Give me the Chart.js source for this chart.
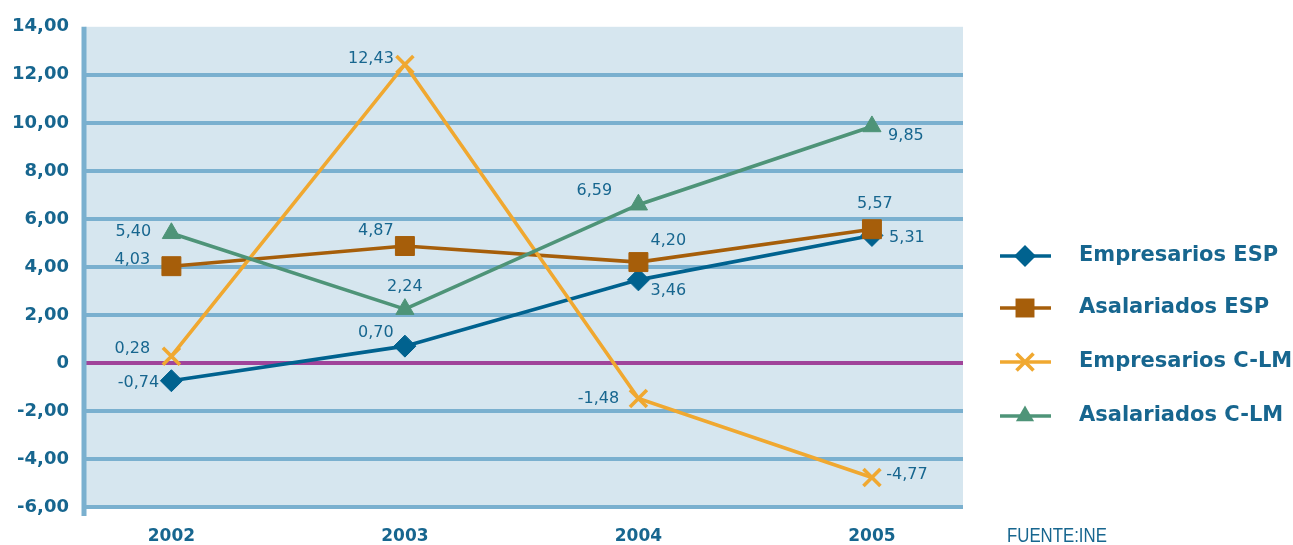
<!DOCTYPE html>
<html><head><meta charset="utf-8">
<script src="https://cdn.jsdelivr.net/npm/chart.js@4.4.1/dist/chart.umd.min.js"></script>
<style>html,body{margin:0;padding:0;background:#fff}#wrap{width:1293px;height:545px;position:relative}</style>
</head><body><div id="wrap"><canvas id="c" width="1293" height="545"></canvas></div>
<script>
// ---- data ----
const years = ['2002', '2003', '2004', '2005'];
const empresariosESP = [-0.74, 0.70, 3.46, 5.31];
const asalariadosESP = [4.03, 4.87, 4.20, 5.57];
const empresariosCLM = [0.28, 12.43, -1.48, -4.77];
const asalariadosCLM = [5.40, 2.24, 6.59, 9.85];
const seriesNames = ['Empresarios ESP', 'Asalariados ESP', 'Empresarios C-LM', 'Asalariados C-LM'];
const yMin = -6, yMax = 14, yStep = 2;
const sourceText = 'FUENTE:INE';

// ---- style ----
const TEXT = '#17668f';
const GRID = '#7ab0cf';
const BG = '#d6e6ef';
const ZERO = '#a0449a';
const colors = ['#00628f', '#a65e0a', '#f0a830', '#4e9478'];
const styles = ['rectRot', 'rect', 'crossRot', 'triangle'];
const radii = [11, 13.4, 12, 10.5];
const orders = [4, 3, 2, 1];
const labelOffsets = [
  [[-33, 2], [-29, -13], [30, 11], [35, 2]],
  [[-39, -6], [-29, -15], [30, -21], [3, -25]],
  [[-39, -7], [-34, -6], [-40, 0], [35, -3]],
  [[-38, -1], [0, -22], [-44, -14], [34, 9]]
];
const seriesValues = [empresariosESP, asalariadosESP, empresariosCLM, asalariadosCLM];
const fmt = v => v.toFixed(2).replace('.', ',');

const datasets = seriesValues.map((vals, s) => ({
  label: seriesNames[s],
  data: vals.map((v, i) => ({ x: i, y: v })),
  borderColor: colors[s],
  backgroundColor: colors[s],
  borderWidth: 3.6,
  pointStyle: styles[s],
  pointRadius: radii[s],
  pointBorderWidth: styles[s] === 'crossRot' ? 3.6 : 1,
  pointBorderColor: colors[s],
  pointBackgroundColor: colors[s],
  tension: 0,
  fill: false,
  order: orders[s]
}));

const bgPlugin = {
  id: 'bg',
  beforeDraw(chart) {
    const { ctx, chartArea: a } = chart;
    ctx.save();
    ctx.fillStyle = BG;
    ctx.fillRect(a.left, a.top, a.right - a.left, a.bottom - a.top);
    ctx.restore();
  },
  beforeDatasetsDraw(chart) {
    const { ctx, chartArea: a } = chart;
    ctx.save();
    ctx.strokeStyle = GRID;
    ctx.lineWidth = 5;
    ctx.beginPath();
    ctx.moveTo(a.left - 1, a.top);
    ctx.lineTo(a.left - 1, a.bottom + 9);
    ctx.stroke();
    ctx.restore();
  }
};

const labelPlugin = {
  id: 'vlabels',
  afterDatasetsDraw(chart) {
    const ctx = chart.ctx;
    ctx.save();
    ctx.font = '16px "DejaVu Sans"';
    ctx.fillStyle = TEXT;
    ctx.textAlign = 'center';
    ctx.textBaseline = 'middle';
    chart.data.datasets.forEach((ds, s) => {
      const meta = chart.getDatasetMeta(s);
      meta.data.forEach((pt, i) => {
        const off = labelOffsets[s][i];
        ctx.fillText(fmt(seriesValues[s][i]), pt.x + off[0], pt.y + off[1]);
      });
    });
    ctx.restore();
  }
};

function drawMarker(ctx, style, x, y, r, color) {
  ctx.save();
  ctx.fillStyle = color; ctx.strokeStyle = color;
  ctx.beginPath();
  if (style === 'rectRot') {
    ctx.moveTo(x, y - r); ctx.lineTo(x + r, y); ctx.lineTo(x, y + r); ctx.lineTo(x - r, y); ctx.closePath(); ctx.fill();
  } else if (style === 'rect') {
    const h = r * Math.SQRT1_2; ctx.rect(x - h, y - h, 2 * h, 2 * h); ctx.fill();
  } else if (style === 'triangle') {
    ctx.moveTo(x, y - r);
    ctx.lineTo(x + Math.cos(Math.PI / 6) * r, y + Math.sin(Math.PI / 6) * r);
    ctx.lineTo(x - Math.cos(Math.PI / 6) * r, y + Math.sin(Math.PI / 6) * r);
    ctx.closePath(); ctx.fill();
  } else if (style === 'crossRot') {
    const d = r * Math.SQRT1_2;
    ctx.lineWidth = 3.6;
    ctx.moveTo(x - d, y - d); ctx.lineTo(x + d, y + d);
    ctx.moveTo(x + d, y - d); ctx.lineTo(x - d, y + d);
    ctx.stroke();
  }
  ctx.restore();
}

const legendPlugin = {
  id: 'customLegend',
  afterDraw(chart) {
    const ctx = chart.ctx;
    const rows = [256, 308, 362, 416];
    ctx.save();
    seriesNames.forEach((name, s) => {
      const y = rows[s];
      ctx.strokeStyle = colors[s];
      ctx.lineWidth = 3.6;
      ctx.beginPath(); ctx.moveTo(1000, y); ctx.lineTo(1051, y); ctx.stroke();
      drawMarker(ctx, styles[s], 1025, y, radii[s], colors[s]);
      ctx.fillStyle = TEXT;
      ctx.font = 'bold 21px "DejaVu Sans"';
      ctx.textAlign = 'left';
      ctx.textBaseline = 'middle';
      ctx.fillText(name, 1079, y);
    });
    ctx.save();
    ctx.translate(1007, 536);
    ctx.scale(0.8, 1);
    ctx.font = '21px "Liberation Sans"';
    ctx.fillStyle = TEXT;
    ctx.textAlign = 'left';
    ctx.textBaseline = 'middle';
    ctx.fillText(sourceText, 0, 0);
    ctx.restore();
    ctx.restore();
  }
};

new Chart(document.getElementById('c'), {
  type: 'line',
  data: { datasets },
  plugins: [bgPlugin, labelPlugin, legendPlugin],
  options: {
    responsive: false,
    devicePixelRatio: 1,
    animation: false,
    layout: { padding: { left: 0, right: 330, top: 25, bottom: 0 } },
    plugins: { legend: { display: false }, tooltip: { enabled: false } },
    scales: {
      x: {
        type: 'linear',
        min: -0.37,
        max: 3.39,
        afterBuildTicks: sc => { sc.ticks = years.map((_, i) => ({ value: i })); },
        afterFit: sc => { sc.height = 38; },
        ticks: {
          callback: v => years[v],
          font: { family: 'DejaVu Sans', size: 17, weight: 'bold' },
          color: TEXT,
          padding: 19,
          maxRotation: 0,
          autoSkip: false
        },
        grid: { display: false, drawTicks: false },
        border: { display: false }
      },
      y: {
        min: yMin,
        max: yMax,
        afterFit: sc => { sc.width = 85; },
        ticks: {
          stepSize: yStep,
          callback: v => (v === 0 ? '0' : fmt(v)),
          font: { family: 'DejaVu Sans', size: 18, weight: 'bold' },
          color: TEXT,
          padding: 16
        },
        grid: {
          drawTicks: false,
          lineWidth: 4,
          color: c => (c.tick && c.tick.value === 0 ? ZERO : (c.tick && c.tick.value === yMax ? 'rgba(0,0,0,0)' : GRID))
        },
        border: { display: false }
      }
    }
  }
});
</script>
</body></html>
